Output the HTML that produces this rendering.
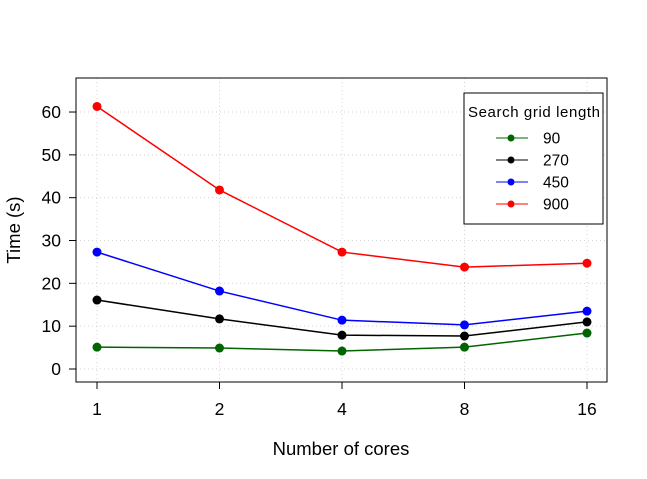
<!DOCTYPE html>
<html><head><meta charset="utf-8"><style>
body{margin:0;background:#fff}
svg{display:block;font-family:"Liberation Sans",Arial,sans-serif}
</style></head><body>
<svg id="chart" width="647" height="479" xmlns="http://www.w3.org/2000/svg">
<rect width="647" height="479" fill="#fff"/>
<g id="grid"></g>
<rect x="76" y="78" width="531" height="304" fill="none" stroke="#000" stroke-width="1"/>
<g id="axes"></g>
<g id="series"></g>
<text x="341" y="455" font-size="18.5" text-anchor="middle">Number of cores</text>
<text transform="translate(20,230) rotate(-90)" font-size="18.5" text-anchor="middle">Time (s)</text>
<g id="legend">
<rect x="464" y="93" width="139" height="131" fill="#fff" stroke="#000"/>
<text x="534" y="117" font-size="15" text-anchor="middle" textLength="132">Search grid length</text>
</g>
</svg>
<script>
const categories=["1","2","4","8","16"];
const seriesNames=["90","270","450","900"];
const colors=["#006400","#000000","#0000ff","#ff0000"];
const s90=[5.1,4.9,4.2,5.1,8.4];
const s270=[16.1,11.7,7.9,7.7,11.0];
const s450=[27.3,18.2,11.4,10.3,13.5];
const s900=[61.3,41.8,27.3,23.8,24.7];
const yTicks=[0,10,20,30,40,50,60];
const allSeries=[s90,s270,s450,s900];
const NS="http://www.w3.org/2000/svg";
function xScale(i){return 97+i*122.5;}
function yScale(v){return 369-v*4.283;}
function mk(tag,attrs,parent){const e=document.createElementNS(NS,tag);for(const k in attrs)e.setAttribute(k,attrs[k]);parent.appendChild(e);return e;}
const grid=document.getElementById('grid'),axes=document.getElementById('axes'),ser=document.getElementById('series'),leg=document.getElementById('legend');
categories.forEach((c,i)=>{
 const g=mk('line',{x1:xScale(i),x2:xScale(i),y1:78,y2:382,stroke:'#d3d3d3','stroke-dasharray':'1,3'},grid);
 
 
 const t=mk('line',{x1:xScale(i),x2:xScale(i),y1:382,y2:389,stroke:'#000'},axes);
 
 
 const l=mk('text',{x:xScale(i),y:415,'font-size':17.5,'text-anchor':'middle'},axes);l.textContent=c;
 
 
});
yTicks.forEach(v=>{
 const g=mk('line',{x1:76,x2:607,y1:yScale(v),y2:yScale(v),stroke:'#d3d3d3','stroke-dasharray':'1,3'},grid);
 
 
 const t=mk('line',{x1:69,x2:76,y1:yScale(v),y2:yScale(v),stroke:'#000'},axes);
 
 
 const l=mk('text',{x:61,y:yScale(v)+6,'font-size':17.5,'text-anchor':'end'},axes);l.textContent=v;
 
 
});
allSeries.forEach((s,k)=>{
 const p=mk('polyline',{points:s.map((v,i)=>xScale(i)+','+yScale(v)).join(' '),fill:'none',stroke:colors[k],'stroke-width':1.5},ser);
 
 
 s.forEach((v,i)=>{
  const c=mk('circle',{cx:xScale(i),cy:yScale(v),r:4.5,fill:colors[k]},ser);
  
  
 });
 const y=138+k*22;
 const ll=mk('line',{x1:496,x2:528,y1:y,y2:y,stroke:colors[k],'stroke-width':1},leg);
 
 
 const lc=mk('circle',{cx:511,cy:y,r:3.5,fill:colors[k]},leg);
 
 
 const lt=mk('text',{x:543,y:y+5.5,'font-size':15.5},leg);lt.textContent=seriesNames[k];
 
 
});
</script>
</body></html>
